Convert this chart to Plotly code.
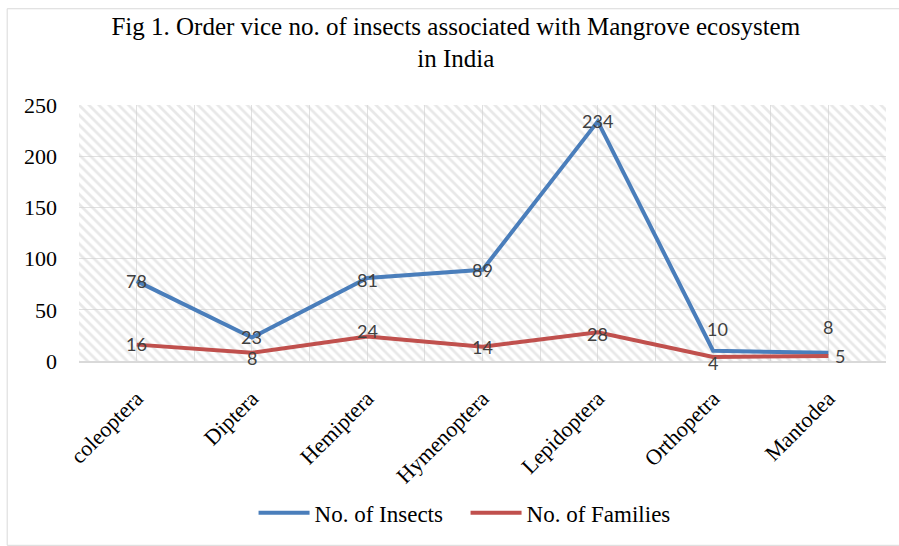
import plotly.graph_objects as go

categories = ["coleoptera", "Diptera", "Hemiptera", "Hymenoptera", "Lepidoptera", "Orthopetra", "Mantodea"]
insects = [78, 23, 81, 89, 234, 10, 8]
families = [16, 8, 24, 14, 28, 4, 5]
# label nudges (pixels) to mimic the reference label placement
insect_label_dx = [0, 0, 0, 0, 0, 4, 0]
insect_label_dy = [0, 0, -2, 0, 0, 22, 26]
family_label_dx = [0, 0, 0, 0, 0, 0, 12]
family_label_dy = [1, -5, 5, 0, -2, -6, 0]
y_max = 250
y_step = 50

n = len(categories)
serif = "Liberation Serif"
label_font = dict(family="Lato", size=18, color="#404040")

fig = go.Figure()

# hatched plot-area background (on the base axes)
fig.add_trace(go.Scatter(
    x=[-0.5, n - 0.5, n - 0.5, -0.5, -0.5], y=[0, 0, y_max, y_max, 0],
    mode="lines", line=dict(width=0), fill="toself",
    fillcolor="rgba(0,0,0,0)",
    fillpattern=dict(shape="\\", fgcolor="#d2d2d2", bgcolor="rgba(0,0,0,0)", size=7, solidity=0.4),
    hoverinfo="skip", showlegend=False, xaxis="x", yaxis="y"))

fig.add_trace(go.Scatter(
    x=categories, y=insects, name="No. of Insects", mode="lines",
    line=dict(color="#4a7ebb", width=4), xaxis="x2", yaxis="y"))
fig.add_trace(go.Scatter(
    x=categories, y=families, name="No. of Families", mode="lines",
    line=dict(color="#c0504d", width=4), xaxis="x2", yaxis="y"))

annotations = []
for vals, dxs, dys in ((insects, insect_label_dx, insect_label_dy),
                       (families, family_label_dx, family_label_dy)):
    for c, v, dx, dy in zip(categories, vals, dxs, dys):
        annotations.append(dict(x=c, y=v, xref="x2", yref="y", text=str(v), showarrow=False,
                                xshift=dx, yshift=dy, font=label_font))

fig.update_layout(
    width=899, height=546,
    margin=dict(l=79, r=13, t=105, b=183),
    paper_bgcolor="white", plot_bgcolor="white",
    title=dict(text="Fig 1. Order vice no. of insects associated with Mangrove ecosystem<br>in India",
               x=0.507, xanchor="center", y=0.936, yanchor="top", yref="container",
               font=dict(family=serif, size=25, color="black")),
    xaxis=dict(range=[-0.5, n - 0.5], tick0=-0.5, dtick=0.5, showgrid=True,
               gridcolor="#e0e0e0", gridwidth=1, showticklabels=False, zeroline=False,
               showline=False, ticks=""),
    xaxis2=dict(overlaying="x", type="category", range=[-0.5, n - 0.5], side="bottom",
                showgrid=False, tickangle=-45, ticks="", ticklabelstandoff=14,
                tickfont=dict(family=serif, size=22, color="black"),
                showline=True, linecolor="#d9d9d9", linewidth=2),
    yaxis=dict(range=[0, y_max], dtick=y_step, showgrid=True, gridcolor="#e0e0e0",
               zeroline=False, ticks="", ticklabelstandoff=21,
               tickfont=dict(family=serif, size=22, color="black")),
    legend=dict(orientation="h", x=0.479, xanchor="center", y=-0.593, yanchor="middle",
                font=dict(family=serif, size=23, color="black"), itemwidth=51,
                entrywidth=146, entrywidthmode="pixels",
                bgcolor="rgba(0,0,0,0)"),
    annotations=annotations,
    shapes=[dict(type="rect", xref="paper", yref="paper",
                 x0=-0.089, x1=1.03, y0=-0.72, y1=1.376,
                 line=dict(color="#d9d9d9", width=1), fillcolor="rgba(0,0,0,0)", layer="below")],
)

fig.write_html("out.html", config={"displayModeBar": False},
               post_script="document.body.style.margin='0';document.body.style.padding='0';")
